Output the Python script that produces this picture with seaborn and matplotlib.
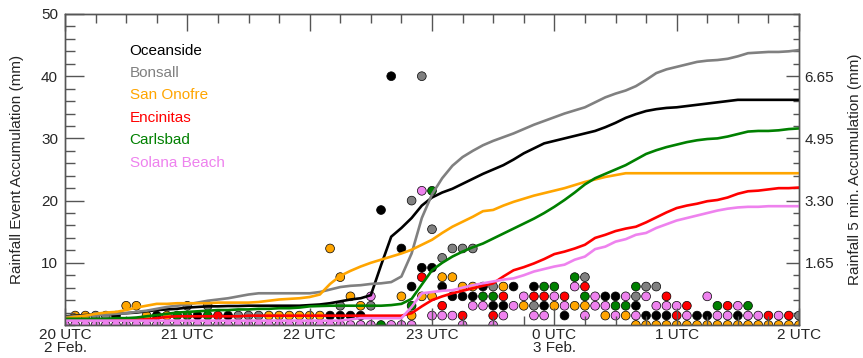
import matplotlib
matplotlib.use("Agg")
import matplotlib.pyplot as plt
from matplotlib.ticker import MultipleLocator, FixedLocator
from matplotlib.lines import Line2D
import pandas as pd
import seaborn as sns

# ---------------- data ----------------
stations = ["Oceanside", "Bonsall", "San Onofre", "Encinitas", "Carlsbad", "Solana Beach"]
colors = ["#000000", "#808080", "#FFA500", "#FF0000", "#008000", "#EE82EE"]

# minutes after 20 UTC 2 Feb. (5-min steps to 2 UTC 3 Feb.)
minutes = list(range(0, 361, 5))
xtick_minutes = [0, 60, 120, 180, 240, 300, 360]
xtick_labels = ["20 UTC\n2 Feb.", "21 UTC", "22 UTC", "23 UTC", "0 UTC\n3 Feb.", "1 UTC", "2 UTC"]
left_ticks = [10, 20, 30, 40, 50]
right_ticks = [1.65, 3.30, 4.95, 6.60]
right_labels = ["1.65", "3.30", "4.95", "6.65"]

# event accumulation (mm), every 5 min
oceanside_acc = [1.4, 1.5, 1.6, 1.7, 1.8, 1.8, 1.9, 2.0, 2.2, 2.4,
                 2.5, 2.6, 2.8, 2.9, 3.0, 3.0, 3.05, 3.05, 3.1, 3.1,
                 3.1, 3.1, 3.1, 3.1, 3.2, 3.3, 3.5, 3.8, 4.1, 4.3,
                 4.8, 9.6, 14.2, 15.6, 17.2, 19.2, 20.5, 21.3, 21.9, 22.7,
                 23.5, 24.3, 25.0, 25.7, 26.6, 27.6, 28.4, 29.2, 29.6, 30.0,
                 30.4, 30.8, 31.2, 31.8, 32.5, 33.3, 33.9, 34.4, 34.7, 34.9,
                 35.0, 35.2, 35.4, 35.6, 35.8, 36.0, 36.2, 36.2, 36.2, 36.2,
                 36.2, 36.2, 36.2]
bonsall_acc = [1.3, 1.4, 1.5, 1.6, 1.7, 1.8, 1.9, 2.1, 2.3, 2.6,
               2.9, 3.1, 3.3, 3.6, 3.9, 4.1, 4.3, 4.6, 4.9, 5.1,
               5.1, 5.1, 5.1, 5.1, 5.1, 5.3, 5.7, 6.1, 6.3, 6.4,
               6.6, 6.7, 6.9, 7.8, 11.5, 17.2, 21.0, 23.6, 25.6, 27.0,
               28.0, 28.9, 29.6, 30.2, 30.8, 31.5, 32.2, 32.8, 33.4, 34.0,
               34.5, 35.0, 35.8, 36.6, 37.2, 37.7, 38.4, 39.4, 40.5, 41.1,
               41.5, 41.9, 42.3, 42.5, 42.6, 42.8, 43.2, 43.7, 43.8, 43.9,
               43.9, 44.0, 44.2]
san_onofre_acc = [1.1, 1.3, 1.5, 1.8, 2.0, 2.1, 2.4, 2.8, 3.1, 3.4,
                  3.4, 3.5, 3.5, 3.5, 3.5, 3.6, 3.6, 3.6, 3.6, 3.7,
                  3.9, 4.1, 4.2, 4.3, 4.5, 4.9, 6.6, 7.9, 8.7, 9.4,
                  10.0, 10.5, 11.0, 11.5, 12.1, 12.9, 13.7, 14.8, 15.8, 16.6,
                  17.4, 18.3, 18.5, 19.2, 19.8, 20.3, 20.8, 21.2, 21.6, 22.0,
                  22.5, 23.0, 23.4, 23.8, 24.1, 24.4, 24.4, 24.4, 24.4, 24.4,
                  24.4, 24.4, 24.4, 24.4, 24.4, 24.4, 24.4, 24.4, 24.4, 24.4,
                  24.4, 24.4, 24.4]
encinitas_acc = [0.9, 0.9, 0.9, 0.9, 0.9, 0.9, 0.9, 0.9, 0.9, 1.1,
                 1.3, 1.4, 1.4, 1.4, 1.4, 1.4, 1.4, 1.4, 1.5, 1.5,
                 1.5, 1.5, 1.5, 1.5, 1.5, 1.5, 1.5, 1.5, 1.5, 1.5,
                 1.5, 1.5, 1.5, 1.5, 1.9, 3.0, 4.0, 4.6, 5.1, 5.5,
                 5.9, 6.3, 6.7, 7.8, 8.8, 9.3, 9.9, 10.6, 11.4, 11.8,
                 12.3, 12.9, 14.0, 14.5, 15.1, 15.5, 15.8, 16.5, 17.3, 18.1,
                 18.8, 19.2, 19.5, 19.9, 20.1, 20.5, 21.1, 21.5, 21.6, 21.8,
                 22.0, 22.0, 22.1]
carlsbad_acc = [1.0, 1.0, 1.0, 1.0, 1.0, 1.1, 1.1, 1.2, 1.4, 1.6,
                1.8, 2.0, 2.1, 2.2, 2.3, 2.4, 2.4, 2.5, 2.5, 2.6,
                2.6, 2.7, 2.7, 2.8, 3.0, 3.05, 3.1, 3.1, 3.1, 3.1,
                3.1, 3.1, 3.2, 3.4, 4.2, 6.5, 8.8, 10.0, 11.0, 11.8,
                12.5, 13.1, 13.9, 14.7, 15.5, 16.3, 17.1, 18.0, 19.0, 20.1,
                21.3, 22.6, 23.6, 24.3, 25.0, 25.7, 26.6, 27.5, 28.1, 28.6,
                29.0, 29.4, 29.7, 29.9, 30.0, 30.3, 30.7, 31.1, 31.2, 31.2,
                31.3, 31.5, 31.6]
solana_beach_acc = [0.7, 0.7, 0.7, 0.7, 0.7, 0.7, 0.7, 0.7, 0.7, 0.7,
                    0.7, 0.7, 0.7, 0.7, 0.7, 0.7, 0.7, 0.7, 0.7, 0.7,
                    0.7, 0.7, 0.7, 0.7, 0.7, 0.7, 0.7, 0.7, 0.9, 1.1,
                    1.1, 1.1, 1.1, 1.1, 2.9, 5.1, 5.3, 5.5, 5.6, 6.0,
                    6.4, 6.7, 7.0, 7.3, 7.5, 8.0, 8.6, 9.0, 9.4, 9.7,
                    10.5, 11.0, 12.2, 12.6, 13.4, 13.8, 14.5, 14.8, 15.6, 16.2,
                    16.8, 17.2, 17.6, 18.0, 18.4, 18.7, 18.9, 19.0, 19.0, 19.1,
                    19.1, 19.1, 19.1]

# 5-min accumulation dots: (minute, mm)
oceanside_dot_min = [25, 45, 65, 80, 130, 135, 140, 145, 155, 160, 165, 170, 175, 180,
                     185, 190, 195, 200, 205, 210, 215, 220, 230, 235, 245, 265, 270,
                     280, 285, 290, 295, 310, 315, 330]
oceanside_dot_mm = [0.25, 0.25, 0.25, 0.25, 0.25, 0.25, 0.25, 0.25, 3.05, 6.60, 2.03, 1.02,
                    1.52, 1.52, 1.02, 0.76, 0.76, 0.76, 1.02, 0.51, 0.51, 1.02, 1.02, 0.51,
                    0.25, 0.76, 0.76, 0.51, 0.25, 0.25, 0.25, 0.25, 0.25, 0.25]
bonsall_dot_min = [15, 20, 60, 70, 85, 90, 95, 135, 150, 170, 175, 180, 185, 190, 195,
                   200, 210, 230, 255, 280, 285, 290, 360]
bonsall_dot_mm = [0.25, 0.25, 0.51, 0.51, 0.25, 0.25, 0.25, 0.51, 0.51, 3.30, 6.60, 2.54,
                  1.78, 2.03, 2.03, 2.03, 1.02, 0.51, 1.27, 0.76, 1.02, 1.02, 0.25]
san_onofre_dot_min = [5, 10, 30, 35, 40, 50, 100, 105, 110, 115, 120, 125, 130, 135, 140,
                      145, 165, 170, 175, 180, 185, 190, 195, 200, 215, 225, 240, 250, 255,
                      265, 275, 280, 285, 290, 295, 300, 305, 310, 315, 320, 325, 330, 335,
                      340, 345, 350, 355, 360]
san_onofre_dot_mm = [0.25, 0.25, 0.51, 0.51, 0.25, 0.25, 0.25, 0.25, 0.25, 0.25, 0.25, 0.25,
                     2.03, 1.27, 0.76, 0.51, 0.76, 0.25, 0.76, 0.76, 1.27, 1.27, 1.02, 1.02,
                     1.02, 0.51, 0.51, 0.51, 0.51, 0.25, 0.25, 0.0, 0.0, 0.0, 0.0, 0.0, 0.0,
                     0.0, 0.0, 0.0, 0.0, 0.0, 0.0, 0.0, 0.0, 0.0, 0.0, 0.0]
encinitas_dot_min = [75, 175, 185, 195, 210, 215, 230, 235, 245, 255, 295, 300, 305, 325,
                     345, 355]
encinitas_dot_mm = [0.25, 1.27, 0.51, 0.25, 0.25, 0.76, 0.76, 0.76, 0.76, 1.02, 0.76, 0.25,
                    0.51, 0.51, 0.25, 0.25]
carlsbad_dot_min = [55, 60, 70, 155, 170, 180, 205, 210, 235, 240, 250, 255, 270, 275, 280,
                    320, 335]
carlsbad_dot_mm = [0.25, 0.25, 0.25, 0.0, 0.51, 3.56, 0.76, 0.76, 1.02, 1.02, 1.27, 0.76,
                   0.51, 0.51, 1.02, 0.51, 0.51]
solana_beach_dot_min = [0, 5, 10, 15, 20, 25, 30, 35, 40, 45, 50, 55, 60, 65, 70, 75, 80, 85,
                        90, 95, 100, 105, 110, 115, 120, 125, 130, 135, 140, 145, 150, 160,
                        165, 170, 150, 175, 180, 185, 190, 195, 200, 205, 210, 215, 220, 225,
                        230, 235, 240, 245, 250, 255, 260, 260, 265, 270, 275, 280, 285, 290,
                        295, 300, 305, 315, 320, 325, 330, 335, 340, 350]
solana_beach_dot_mm = [0.0, 0.0, 0.0, 0.0, 0.0, 0.0, 0.0, 0.0, 0.0, 0.0, 0.0, 0.0, 0.0, 0.0,
                       0.0, 0.0, 0.0, 0.0, 0.0, 0.0, 0.0, 0.0, 0.0, 0.0, 0.0, 0.0, 0.0, 0.0,
                       0.0, 0.0, 0.0, 0.0, 0.0, 0.0, 0.76, 3.56, 0.25, 0.25, 0.25, 0.0, 0.51,
                       0.51, 0.0, 0.25, 0.51, 0.76, 0.25, 0.25, 0.76, 0.51, 1.02, 0.25, 0.51,
                       0.76, 0.51, 0.25, 0.76, 0.25, 0.76, 0.51, 0.51, 0.51, 0.25, 0.76, 0.25,
                       0.25, 0.51, 0.25, 0.25, 0.25]

acc_series = [oceanside_acc, bonsall_acc, san_onofre_acc, encinitas_acc, carlsbad_acc, solana_beach_acc]
dot_series = [(oceanside_dot_min, oceanside_dot_mm), (bonsall_dot_min, bonsall_dot_mm),
              (san_onofre_dot_min, san_onofre_dot_mm), (encinitas_dot_min, encinitas_dot_mm),
              (carlsbad_dot_min, carlsbad_dot_mm), (solana_beach_dot_min, solana_beach_dot_mm)]

lines_df = pd.concat([pd.DataFrame({"minute": minutes, "acc": a, "station": s})
                      for s, a in zip(stations, acc_series)], ignore_index=True)
dots_df = pd.concat([pd.DataFrame({"minute": t, "mm": v, "station": s})
                     for s, (t, v) in zip(stations, dot_series)], ignore_index=True)
palette = dict(zip(stations, colors))

# ---------------- style ----------------
sns.set_style("ticks")
plt.rcParams["font.family"] = ["Liberation Sans", "DejaVu Sans"]
plt.rcParams["font.size"] = 11
frame_col = "#555555"

fig = plt.figure(figsize=(8.63, 3.58), dpi=100)
ax = fig.add_axes([65 / 863, 1 - 325 / 358, 734 / 863, 311 / 358])
ax2 = ax.twinx()

# dots on the 5-min axis (right)
sns.scatterplot(data=dots_df, x="minute", y="mm", hue="station", hue_order=stations,
                palette=palette, s=40, edgecolor="black", linewidth=0.5, legend=False, ax=ax2)
# lines on the event axis (left)
sns.lineplot(data=lines_df, x="minute", y="acc", hue="station", hue_order=stations,
             palette=palette, linewidth=1.9, errorbar=None, legend=False, ax=ax)

ax.set_zorder(ax2.get_zorder() + 1)
ax.patch.set_visible(False)

ax.set_xlim(0, 360)
ax.set_ylim(0, 50)
ax2.set_ylim(0, 8.25)

ax.xaxis.set_major_locator(FixedLocator(xtick_minutes))
ax.set_xticklabels(xtick_labels, linespacing=0.95)
ax.xaxis.set_minor_locator(MultipleLocator(15))
ax.yaxis.set_major_locator(FixedLocator(left_ticks))
ax.yaxis.set_minor_locator(MultipleLocator(2))
ax2.yaxis.set_major_locator(FixedLocator(right_ticks))
ax2.set_yticklabels(right_labels)
ax2.yaxis.set_minor_locator(MultipleLocator(0.33))

ax.tick_params(axis="x", which="major", direction="in", length=12, width=1, color=frame_col,
               top=True, bottom=True, pad=2, labelsize=11)
ax.tick_params(axis="x", which="minor", direction="in", length=6.5, width=1, color=frame_col,
               top=True, bottom=True)
ax.tick_params(axis="y", which="major", direction="in", length=14, width=1, color=frame_col,
               left=True, right=False, pad=5, labelsize=11)
ax.tick_params(axis="y", which="minor", direction="in", length=7, width=1, color=frame_col,
               left=True, right=False)
ax2.tick_params(axis="y", which="major", direction="in", length=9.5, width=1, color=frame_col,
                pad=4, labelsize=11)
ax2.tick_params(axis="y", which="minor", direction="in", length=4.5, width=1, color=frame_col)

for a in (ax, ax2):
    for sp in a.spines.values():
        sp.set_color(frame_col)
        sp.set_linewidth(1.0)

ax.set_xlabel("")
ax.set_ylabel("Rainfall Event Accumulation (mm)", fontsize=11, labelpad=12)
ax2.set_ylabel("Rainfall 5 min. Accumulation (mm)", fontsize=11, labelpad=10)

handles = [Line2D([], [], color=c, lw=0) for c in colors]
ax.legend(handles, stations, labelcolor=colors, loc="upper left", bbox_to_anchor=(0.088, 0.905),
          frameon=False, handlelength=0, handletextpad=0, borderpad=0, borderaxespad=0,
          labelspacing=0.55, fontsize=11)

fig.savefig("out.png", dpi=100)
